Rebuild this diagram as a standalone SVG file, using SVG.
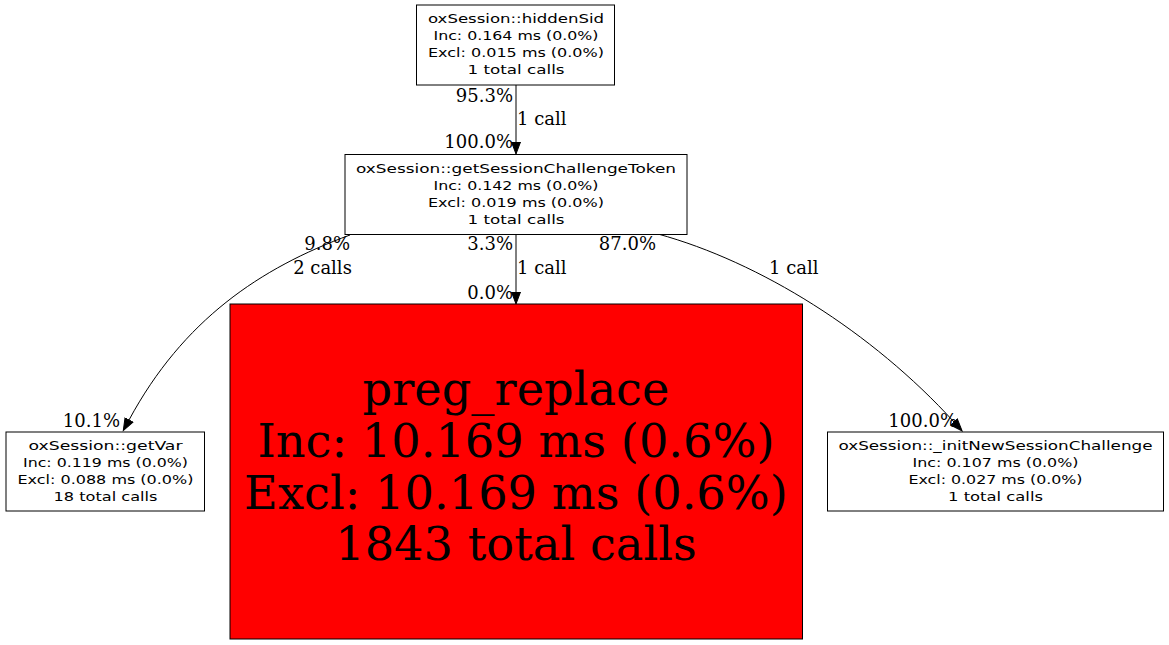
<svg xmlns="http://www.w3.org/2000/svg" width="1169" height="645" viewBox="0 0 1169 645">
<defs>
<style>
.box{fill:#ffffff;stroke:#000000;stroke-width:1}
.hot{fill:#ff0000;stroke:#000000;stroke-width:1}
.nt{font-family:"DejaVu Sans","Liberation Sans",sans-serif;font-size:13px;fill:#000;text-anchor:middle}
.big{font-family:"DejaVu Serif","Liberation Serif",serif;font-size:46.3px;fill:#000;text-anchor:middle}
.el{font-family:"DejaVu Serif","Liberation Serif",serif;font-size:18px;fill:#000}
.edge{fill:none;stroke:#000;stroke-width:1;marker-end:url(#arr)}
</style>
<marker id="arr" markerUnits="userSpaceOnUse" markerWidth="14" markerHeight="12" refX="0" refY="5" orient="auto" viewBox="0 -1 13 12">
<path d="M0,0.5 L12,5 L0,9.5 z" fill="#000" stroke="#000" stroke-width="1"/>
</marker>
</defs>
<rect width="1169" height="645" fill="#ffffff"/>

<g id="connectors">
<path class="edge" d="M516,85 L516,142"/>
<path class="edge" d="M516,235 L516,292"/>
<path class="edge" d="M350,235 C260,268 183,320 129,420"/>
<path class="edge" d="M658,234 C760,262 872,332 954,422"/>
<text class="el" x="513" y="101.5" text-anchor="end">95.3%</text>
<text class="el" x="517" y="125">1 call</text>
<text class="el" x="513" y="148" text-anchor="end">100.0%</text>
<text class="el" x="350" y="249.5" text-anchor="end">9.8%</text>
<text class="el" x="322.5" y="273.5" text-anchor="middle">2 calls</text>
<text class="el" x="513" y="249.5" text-anchor="end">3.3%</text>
<text class="el" x="517" y="273.5">1 call</text>
<text class="el" x="513" y="298.5" text-anchor="end">0.0%</text>
<text class="el" x="656" y="249.5" text-anchor="end">87.0%</text>
<text class="el" x="769" y="274">1 call</text>
<text class="el" x="120" y="427" text-anchor="end">10.1%</text>
<text class="el" x="957" y="427" text-anchor="end">100.0%</text>
</g>

<g id="hiddenSid">
<rect class="box" x="416.5" y="5" width="198" height="80"/>
<text class="nt" x="516" y="22.5" textLength="176" lengthAdjust="spacingAndGlyphs">oxSession::hiddenSid</text>
<text class="nt" x="516" y="39.5" textLength="165" lengthAdjust="spacingAndGlyphs">Inc: 0.164 ms (0.0%)</text>
<text class="nt" x="516" y="56.5" textLength="176" lengthAdjust="spacingAndGlyphs">Excl: 0.015 ms (0.0%)</text>
<text class="nt" x="516" y="73.5" textLength="97" lengthAdjust="spacingAndGlyphs">1 total calls</text>
</g>

<g id="getSessionChallengeToken">
<rect class="box" x="345" y="154.5" width="342" height="80"/>
<text class="nt" x="516" y="172.5" textLength="320" lengthAdjust="spacingAndGlyphs">oxSession::getSessionChallengeToken</text>
<text class="nt" x="516" y="189.5" textLength="165" lengthAdjust="spacingAndGlyphs">Inc: 0.142 ms (0.0%)</text>
<text class="nt" x="516" y="206.5" textLength="176" lengthAdjust="spacingAndGlyphs">Excl: 0.019 ms (0.0%)</text>
<text class="nt" x="516" y="223.5" textLength="97" lengthAdjust="spacingAndGlyphs">1 total calls</text>
</g>

<g id="preg_replace">
<rect class="hot" x="230" y="304" width="572.5" height="335"/>
<text class="big" x="516" y="405">preg_replace</text>
<text class="big" x="516" y="457.3">Inc: 10.169 ms (0.6%)</text>
<text class="big" x="516" y="508.7">Excl: 10.169 ms (0.6%)</text>
<text class="big" x="516" y="560">1843 total calls</text>
</g>

<g id="getVar">
<rect class="box" x="6" y="432" width="198.5" height="79"/>
<text class="nt" x="105.5" y="449.5" textLength="154" lengthAdjust="spacingAndGlyphs">oxSession::getVar</text>
<text class="nt" x="105.5" y="466.5" textLength="165" lengthAdjust="spacingAndGlyphs">Inc: 0.119 ms (0.0%)</text>
<text class="nt" x="105.5" y="483.5" textLength="176" lengthAdjust="spacingAndGlyphs">Excl: 0.088 ms (0.0%)</text>
<text class="nt" x="105.5" y="500.5" textLength="104" lengthAdjust="spacingAndGlyphs">18 total calls</text>
</g>

<g id="initNewSessionChallenge">
<rect class="box" x="827.5" y="432" width="336" height="79"/>
<text class="nt" x="995.5" y="449.5" textLength="314" lengthAdjust="spacingAndGlyphs">oxSession::_initNewSessionChallenge</text>
<text class="nt" x="995.5" y="466.5" textLength="166" lengthAdjust="spacingAndGlyphs">Inc: 0.107 ms (0.0%)</text>
<text class="nt" x="995.5" y="483.5" textLength="174" lengthAdjust="spacingAndGlyphs">Excl: 0.027 ms (0.0%)</text>
<text class="nt" x="995.5" y="500.5" textLength="95" lengthAdjust="spacingAndGlyphs">1 total calls</text>
</g>
</svg>
